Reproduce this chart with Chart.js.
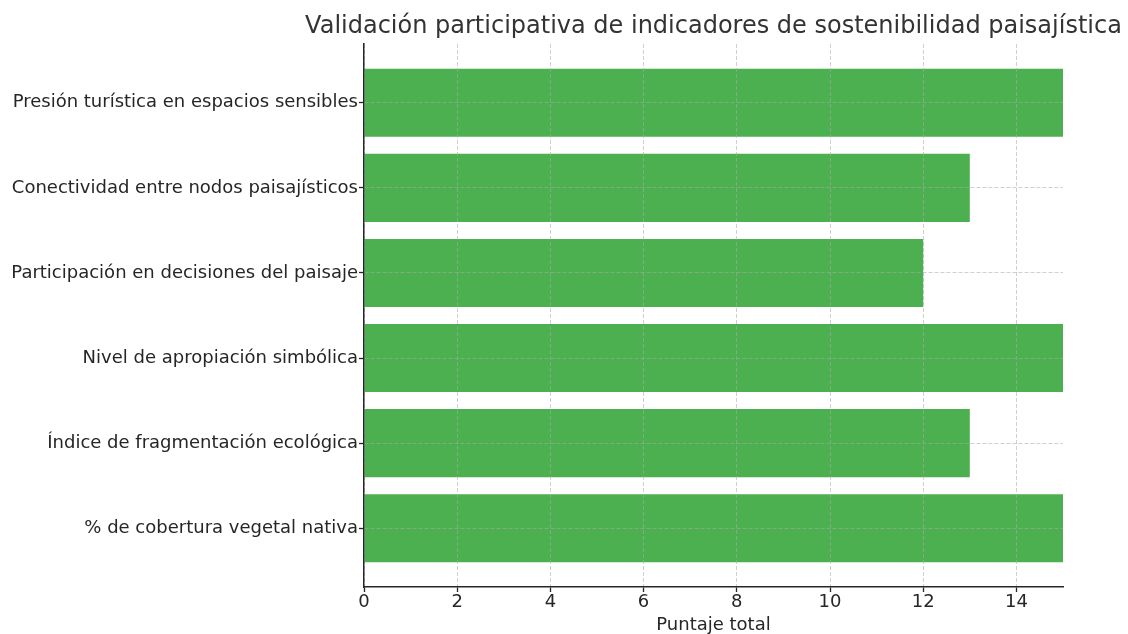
<!DOCTYPE html>
<html>
<head>
<meta charset="utf-8">
<script src="https://cdn.jsdelivr.net/npm/chart.js@4/dist/chart.umd.min.js"></script>
<style>
  html, body { margin: 0; padding: 0; background: #fff; }
  #wrap { width: 1128px; height: 634px; position: relative; }
</style>
</head>
<body>
<div id="wrap"><canvas id="chart"></canvas></div>
<script>
// indicadores, listed top to bottom as they appear
const CATEGORIES = [
  'Presión turística en espacios sensibles',
  'Conectividad entre nodos paisajísticos',
  'Participación en decisiones del paisaje',
  'Nivel de apropiación simbólica',
  'Índice de fragmentación ecológica',
  '% de cobertura vegetal nativa',
];
const SCORES = [15, 13, 12, 15, 13, 15];
const X_TICKS = [0, 2, 4, 6, 8, 10, 12, 14];
const TITLE = 'Validación participativa de indicadores de sostenibilidad paisajística';
const X_LABEL = 'Puntaje total';

const GREEN = '#4CAF50';
const INK = '#262626';
const GRID = 'rgba(170,170,170,0.55)';
const FONT = "'DejaVu Sans', sans-serif";

Chart.defaults.font.family = FONT;
Chart.defaults.color = INK;

// title centred over the plot area, like the source figure
const plotTitle = {
  id: 'plotTitle',
  afterDraw(chart) {
    const { ctx, chartArea } = chart;
    ctx.save();
    ctx.font = `24px ${FONT}`;
    ctx.fillStyle = '#333333';
    ctx.textAlign = 'center';
    ctx.textBaseline = 'middle';
    ctx.fillText(TITLE, (chartArea.left + chartArea.right) / 2, 27);
    ctx.restore();
  },
};

new Chart(document.getElementById('chart'), {
  type: 'bar',
  data: {
    datasets: [{
      data: SCORES.map((v, i) => ({ x: v, y: i })),
      backgroundColor: GREEN,
      borderWidth: 0,
      barPercentage: 0.8,
      categoryPercentage: 1,
    }],
  },
  options: {
    indexAxis: 'y',
    responsive: true, maintainAspectRatio: false, animation: false,
    layout: { padding: { top: 44, right: 65, left: 0, bottom: 0 } },
    plugins: { legend: { display: false }, tooltip: { enabled: false } },
    scales: {
      x: {
        type: 'linear', min: 0, max: 15,
        afterBuildTicks: (s) => { s.ticks = X_TICKS.map((v) => ({ value: v })); },
        afterFit: (s) => { s.height = 47; },
        grid: { z: 1, color: GRID, tickColor: INK, tickLength: 5, tickWidth: 1.3, tickBorderDash: [] },
        border: { z: 2, color: INK, width: 1.5, dash: [4, 2] },
        ticks: { font: { size: 18 }, color: INK, padding: 0 },
        title: { display: true, text: X_LABEL, font: { size: 18 }, color: INK, padding: { top: 0, bottom: -2 } },
      },
      y: {
        type: 'linear', min: -0.69, max: 5.69, reverse: true, offset: false,
        afterBuildTicks: (s) => { s.ticks = CATEGORIES.map((c, i) => ({ value: i })); },
        afterFit: (s) => { s.width = 364; },
        grid: { z: 1, offset: false, color: GRID, tickColor: INK, tickLength: 5, tickWidth: 1.3, tickBorderDash: [] },
        border: { z: 2, color: INK, width: 1.5, dash: [4, 2] },
        ticks: { font: { size: 18 }, color: INK, padding: 1, callback: (v) => CATEGORIES[v] },
      },
    },
  },
  plugins: [plotTitle],
});
</script>
</body>
</html>
